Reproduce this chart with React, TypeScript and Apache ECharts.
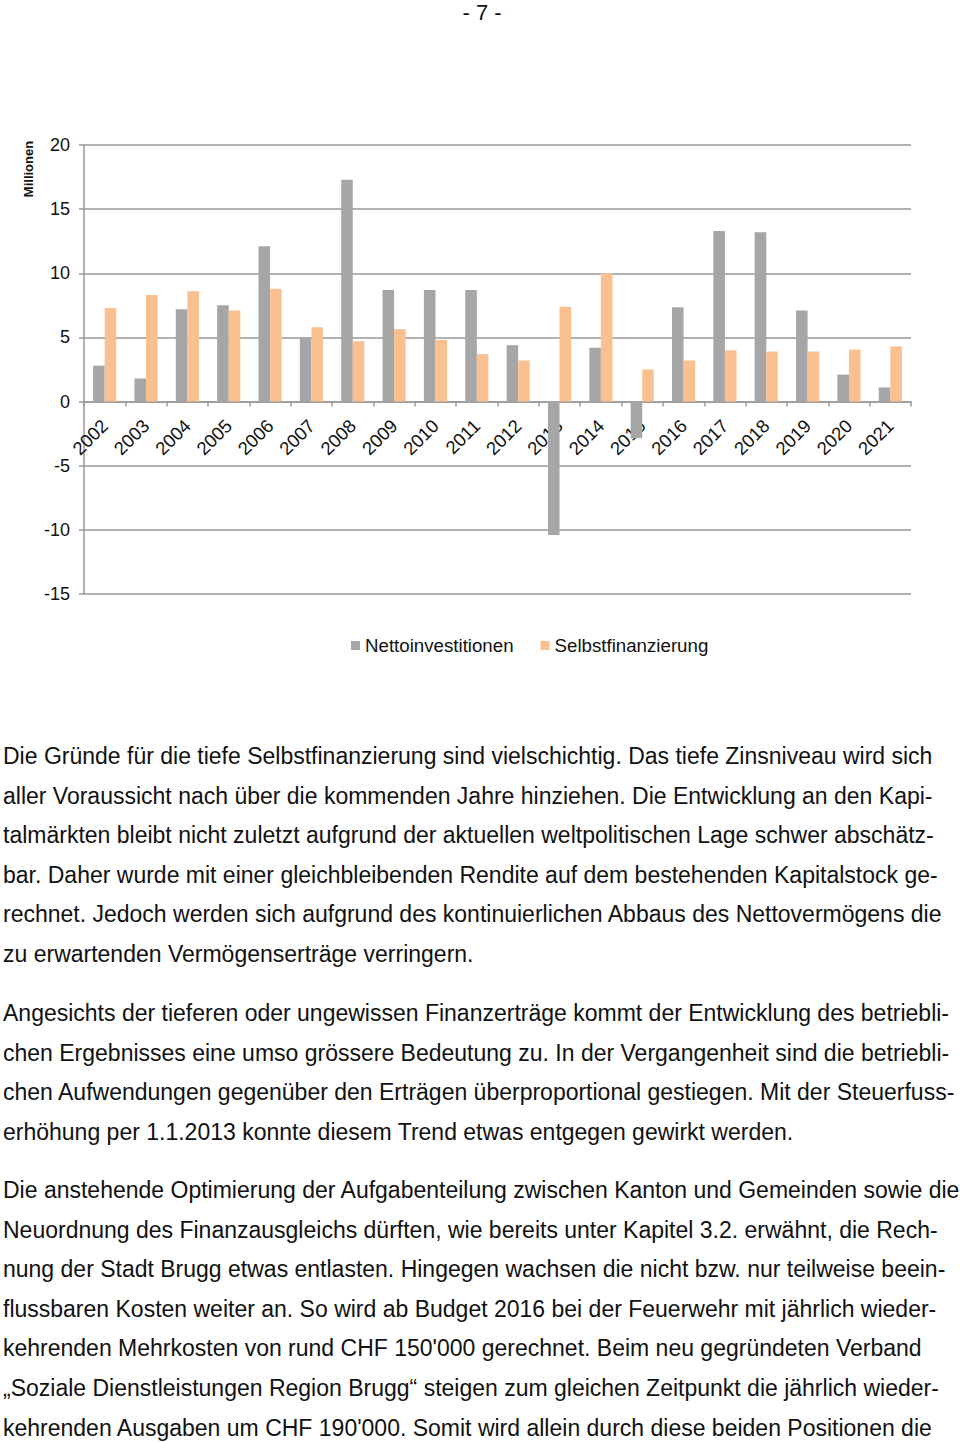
import React, { useEffect, useRef } from "react";
import * as echarts from "echarts";

const years = ["2002","2003","2004","2005","2006","2007","2008","2009","2010","2011","2012","2013","2014","2015","2016","2017","2018","2019","2020","2021"];
const nettoinvestitionen = [2.8,1.8,7.2,7.5,12.1,5.0,17.3,8.7,8.7,8.7,4.4,-10.4,4.2,-2.85,7.35,13.3,13.2,7.1,2.1,1.1];
const selbstfinanzierung = [7.3,8.3,8.6,7.1,8.8,5.8,4.7,5.65,4.8,3.7,3.2,7.4,10.0,2.5,3.2,4.0,3.9,3.9,4.05,4.3];
const yTicks = { min: -15, max: 20, interval: 5 };

const pageNumber = "- 7 -";
const axisName = "Millionen";

const para1 = [
  "Die Gründe für die tiefe Selbstfinanzierung sind vielschichtig. Das tiefe Zinsniveau wird sich",
  "aller Voraussicht nach über die kommenden Jahre hinziehen. Die Entwicklung an den Kapi-",
  "talmärkten bleibt nicht zuletzt aufgrund der aktuellen weltpolitischen Lage schwer abschätz-",
  "bar. Daher wurde mit einer gleichbleibenden Rendite auf dem bestehenden Kapitalstock ge-",
  "rechnet. Jedoch werden sich aufgrund des kontinuierlichen Abbaus des Nettovermögens die",
  "zu erwartenden Vermögenserträge verringern.",
];
const para2 = [
  "Angesichts der tieferen oder ungewissen Finanzerträge kommt der Entwicklung des betriebli-",
  "chen Ergebnisses eine umso grössere Bedeutung zu. In der Vergangenheit sind die betriebli-",
  "chen Aufwendungen gegenüber den Erträgen überproportional gestiegen. Mit der Steuerfuss-",
  "erhöhung per 1.1.2013 konnte diesem Trend etwas entgegen gewirkt werden.",
];
const para3 = [
  "Die anstehende Optimierung der Aufgabenteilung zwischen Kanton und Gemeinden sowie die",
  "Neuordnung des Finanzausgleichs dürften, wie bereits unter Kapitel 3.2. erwähnt, die Rech-",
  "nung der Stadt Brugg etwas entlasten. Hingegen wachsen die nicht bzw. nur teilweise beein-",
  "flussbaren Kosten weiter an. So wird ab Budget 2016 bei der Feuerwehr mit jährlich wieder-",
  "kehrenden Mehrkosten von rund CHF 150'000 gerechnet. Beim neu gegründeten Verband",
  "„Soziale Dienstleistungen Region Brugg“ steigen zum gleichen Zeitpunkt die jährlich wieder-",
  "kehrenden Ausgaben um CHF 190'000. Somit wird allein durch diese beiden Positionen die",
];

const FONT = "'Liberation Sans', Arial, Helvetica, sans-serif";
const BODY_SIZE = 23;
const LINE_H = 39.6;

const GRID_TOP = 145;
const GRID_BOTTOM = 848;
const GRID_H = 1442 - GRID_TOP - GRID_BOTTOM;
// distance from grid bottom (value min) to value 0
const zeroOffset = ((0 - yTicks.min) / (yTicks.max - yTicks.min)) * GRID_H;

function paraTexts(lines: string[], firstY: number) {
  return lines.map((t, i) => ({
    type: "text",
    x: 3,
    y: firstY + i * LINE_H,
    style: {
      text: t,
      fill: "#111",
      font: `${BODY_SIZE}px ${FONT}`,
      verticalAlign: "middle",
      align: "left",
    },
  }));
}

export default function App() {
  const ref = useRef<HTMLDivElement>(null);
  useEffect(() => {
    if (!ref.current) return;
    const chart = echarts.init(ref.current, null, { renderer: "svg" });
    chart.setOption({
      animation: false,
      backgroundColor: "#fff",
      textStyle: { fontFamily: FONT },
      grid: { left: 84, right: 49, top: GRID_TOP, bottom: GRID_BOTTOM, containLabel: false },
      legend: {
        left: 346,
        top: 631,
        icon: "rect",
        itemWidth: 9,
        itemHeight: 9,
        itemGap: 27,
        textStyle: { fontSize: 18.7, color: "#111", fontFamily: FONT },
        data: ["Nettoinvestitionen", "Selbstfinanzierung"],
      },
      xAxis: {
        type: "category",
        data: years,
        position: "bottom",
        offset: -zeroOffset,
        axisLine: { onZero: false, lineStyle: { color: "#999", width: 1.5 } },
        axisTick: { show: true, length: 5, lineStyle: { color: "#999", width: 1.5 } },
        axisLabel: { interval: 0, rotate: 45, margin: 21, fontSize: 18.5, color: "#111", fontFamily: FONT },
      },
      yAxis: {
        type: "value",
        min: yTicks.min,
        max: yTicks.max,
        interval: yTicks.interval,
        axisLine: { show: true, lineStyle: { color: "#999", width: 1.5 } },
        axisTick: { show: true, length: 5, lineStyle: { color: "#999", width: 1.5 } },
        axisLabel: { margin: 14, fontSize: 18, color: "#111", fontFamily: FONT },
        splitLine: { show: true, lineStyle: { color: "#999", width: 1.5 } },
      },
      series: [
        {
          name: "Nettoinvestitionen",
          type: "bar",
          data: nettoinvestitionen,
          itemStyle: { color: "#a6a6a6" },
          barGap: "0%",
          barCategoryGap: "44%",
        },
        {
          name: "Selbstfinanzierung",
          type: "bar",
          data: selbstfinanzierung,
          itemStyle: { color: "#fac090" },
          barGap: "0%",
          barCategoryGap: "44%",
        },
      ],
      graphic: [
        {
          type: "text",
          x: 482,
          y: 12,
          style: { text: pageNumber, fill: "#111", font: `22px ${FONT}`, align: "center", verticalAlign: "middle" },
        },
        {
          type: "text",
          x: 28,
          y: 169,
          rotation: Math.PI / 2,
          style: { text: axisName, fill: "#111", font: `bold 13px ${FONT}`, align: "center", verticalAlign: "middle" },
        },
        ...paraTexts(para1, 756),
        ...paraTexts(para2, 1013),
        ...paraTexts(para3, 1190),
      ],
    });
    return () => chart.dispose();
  }, []);
  return (
    <div
      ref={ref}
      style={{ position: "absolute", left: 0, top: 0, width: 960, height: 1442, background: "#fff" }}
    />
  );
}
